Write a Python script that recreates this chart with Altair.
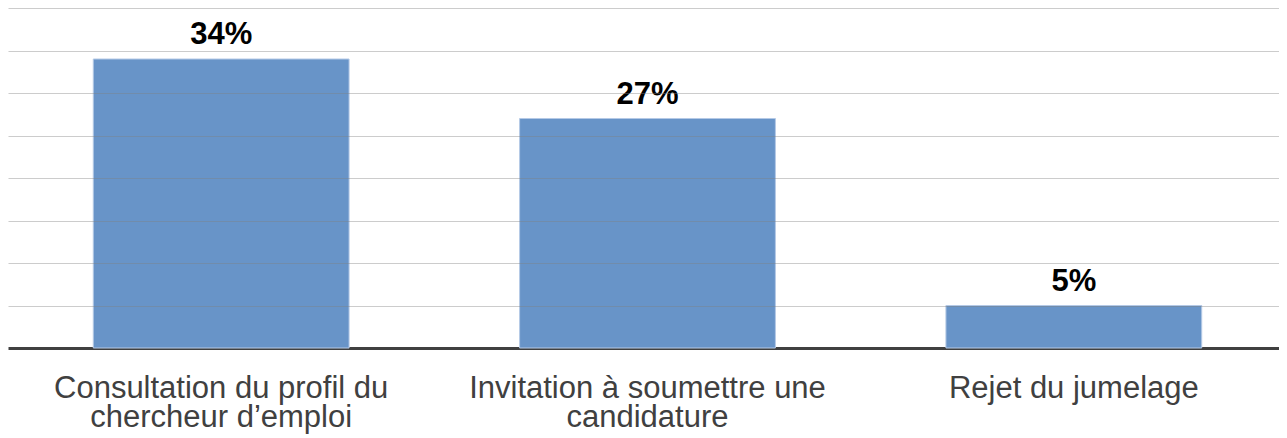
import altair as alt
import pandas as pd

categories = [
    "Consultation du profil du\nchercheur d’emploi",
    "Invitation à soumettre une\ncandidature",
    "Rejet du jumelage",
]
values = [34, 27, 5]
value_labels = ["34%", "27%", "5%"]
grid_values = [5, 10, 15, 20, 25, 30, 35, 40]

df = pd.DataFrame({"cat": categories, "value": values, "label": value_labels})

FONT = "Liberation Sans"

x_enc = alt.X(
    "cat:N",
    sort=None,
    scale=alt.Scale(paddingInner=0.4, paddingOuter=0.2, range=[0, 1279]),
    axis=alt.Axis(
        title=None,
        labelAngle=0,
        labelFont=FONT,
        labelFontSize=31,
        labelColor="#404040",
        labelLineHeight=29,
        labelExpr="split(datum.label, '\\n')",
        labelPadding=25,
        labelLimit=0,
        ticks=False,
        grid=False,
        domainColor="#404040",
        domainWidth=3,
    ),
)
y_enc = alt.Y(
    "value:Q",
    scale=alt.Scale(domain=[0, 40]),
    axis=alt.Axis(
        title=None,
        labels=False,
        ticks=False,
        domain=False,
        values=grid_values,
        gridColor="#808080",
        gridOpacity=0.4,
        gridWidth=1,
        zindex=1,
    ),
)

bars = alt.Chart(df).mark_bar(
    color="#6894c8", stroke="#b4c9e6", strokeWidth=1
).encode(x=x_enc, y=y_enc)

text = alt.Chart(df).mark_text(
    font=FONT, fontSize=31, fontWeight="bold", color="#000000",
    baseline="alphabetic", dy=-15
).encode(x=alt.X("cat:N", sort=None), y="value:Q", text="label:N")

chart = (bars + text).properties(
    width=1271,
    height=340,
    autosize=alt.AutoSizeParams(type="none"),
    padding={"left": 0, "top": 0, "right": 0, "bottom": 88},
).configure_view(stroke=None)

chart.save("out.html", embed_options={"renderer": "svg", "actions": False})
